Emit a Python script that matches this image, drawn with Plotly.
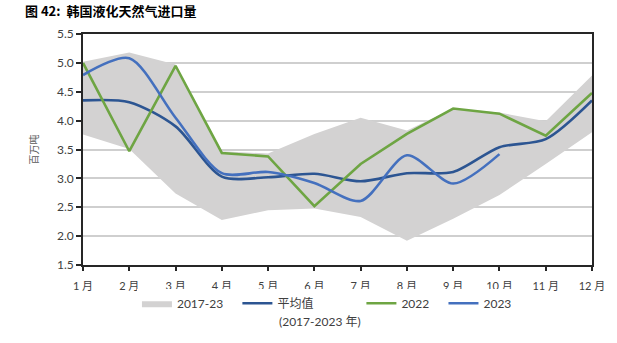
import plotly.graph_objects as go

months = ["1 月", "2 月", "3 月", "4 月", "5 月", "6 月", "7 月", "8 月", "9 月", "10 月", "11 月", "12 月"]
band_low = [3.76, 3.51, 2.74, 2.28, 2.45, 2.48, 2.33, 1.92, 2.30, 2.71, 3.25, 3.80]
band_high = [5.02, 5.18, 4.97, 3.47, 3.43, 3.77, 4.05, 3.83, 4.21, 4.14, 3.99, 4.78]
mean_vals = [4.35, 4.32, 3.90, 3.03, 3.02, 3.08, 2.95, 3.09, 3.11, 3.54, 3.68, 4.35]
y2022 = [5.00, 3.47, 4.95, 3.44, 3.38, 2.52, 3.25, 3.77, 4.21, 4.12, 3.74, 4.48]
y2023 = [4.79, 5.08, 4.05, 3.09, 3.11, 2.92, 2.61, 3.40, 2.91, 3.42]

FONT = "Lato, 'Noto Sans CJK SC', sans-serif"
CJK = "'Noto Sans CJK SC', sans-serif"
SP = "\u00a0"

fig = go.Figure()
fig.add_trace(go.Scatter(x=months, y=band_low, mode="lines", line=dict(width=0),
                         showlegend=False, hoverinfo="skip"))
fig.add_trace(go.Scatter(x=months, y=band_high, mode="lines", line=dict(width=0),
                         fill="tonexty", fillcolor="#D3D2D2", name="2017-23" + SP * 3))
fig.add_trace(go.Scatter(x=months, y=mean_vals, mode="lines",
                         line=dict(color="#2C5592", width=2.6, shape="spline", smoothing=0.8),
                         name="平均值" + SP * 14))
fig.add_trace(go.Scatter(x=months, y=y2022, mode="lines",
                         line=dict(color="#6EA543", width=2.6), name="2022" + SP * 3))
fig.add_trace(go.Scatter(x=months[:len(y2023)], y=y2023, mode="lines",
                         line=dict(color="#4470BE", width=2.6, shape="spline", smoothing=0.8),
                         name="2023"))

fig.update_layout(
    width=617, height=343,
    margin=dict(l=83, r=20, t=34, b=78),
    paper_bgcolor="white", plot_bgcolor="white",
    font=dict(family=FONT, size=11, color="#404040"),
    showlegend=True,
    legend=dict(orientation="h", x=0.106, xanchor="left", y=-0.103, yanchor="top",
                font=dict(family=FONT, size=12, color="#404040"),
                valign="middle", traceorder="normal", itemwidth=30),
    annotations=[
        dict(text="<b>图 42:  韩国液化天然气进口量</b>", xref="paper", yref="paper",
             x=-61/514, y=(265-11)/231, xanchor="left", yanchor="middle",
             showarrow=False, font=dict(family=CJK, size=13, color="#000000")),
        dict(text="(2017-2023 年)", xref="paper", yref="paper",
             x=(279-83)/514, y=(265-321)/231, xanchor="left", yanchor="middle",
             showarrow=False, font=dict(family=FONT, size=12, color="#404040")),
    ],
)
fig.update_xaxes(type="category", range=[0, 11], showgrid=False,
                 showline=True, linecolor="#262626", linewidth=1.8, mirror=True,
                 ticks="outside", ticklen=4, tickcolor="#262626", tickwidth=1.5,
                 ticklabelstandoff=6,
                 tickfont=dict(family=FONT, size=11, color="#404040"))
fig.update_yaxes(range=[1.5, 5.5], dtick=0.5, tick0=1.5, tickformat=".1f",
                 showgrid=True, gridcolor="#CFCFCF", gridwidth=1.5,
                 showline=True, linecolor="#262626", linewidth=1.8, mirror=True,
                 ticks="outside", ticklen=5, tickcolor="#262626", tickwidth=1.5,
                 zeroline=False,
                 tickfont=dict(family=FONT, size=12, color="#404040"),
                 title=dict(text="百万吨", font=dict(family=CJK, size=10, color="#595959"), standoff=16))

fig.write_html("out.html")
